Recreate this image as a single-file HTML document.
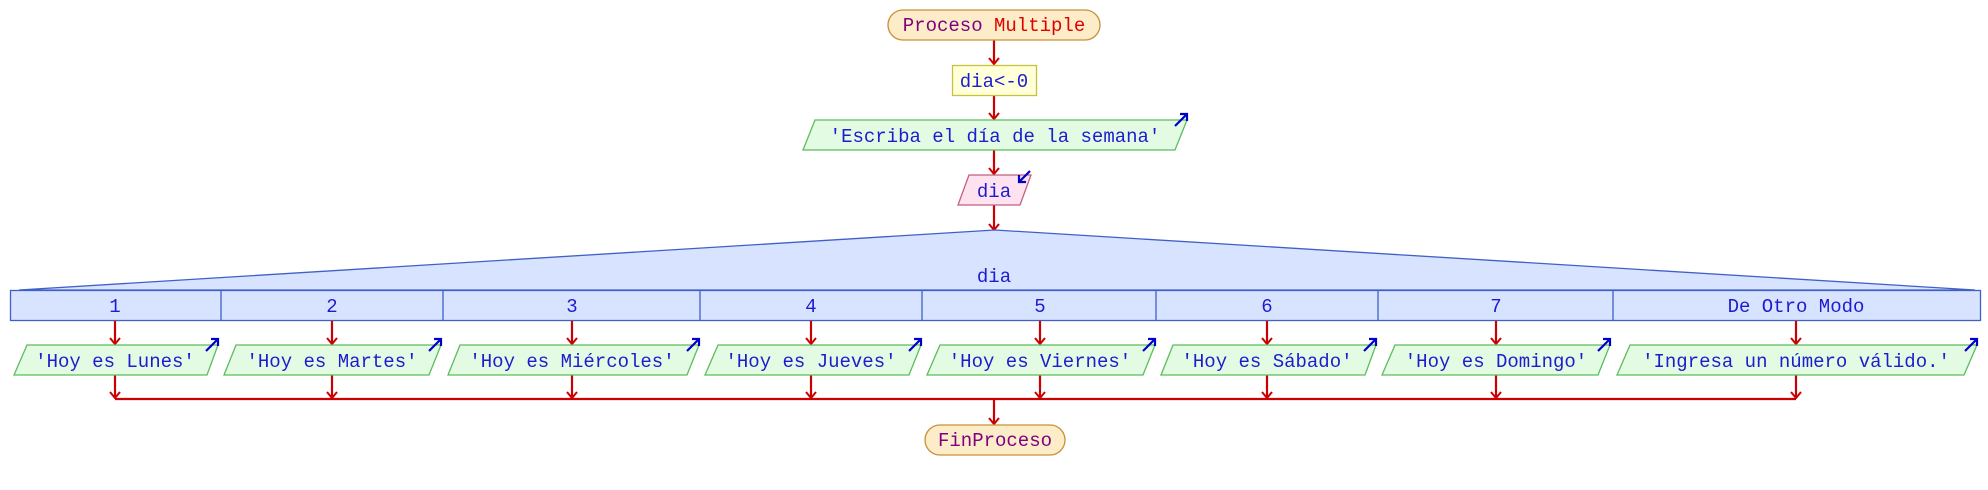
<!DOCTYPE html>
<html><head><meta charset="utf-8"><style>
html,body{margin:0;padding:0;background:#fff;}
svg{display:block;}
text{font-family:"Liberation Mono",monospace;font-size:19px;fill:#1c1cd0;}
</style></head><body>
<svg width="1988" height="490" viewBox="0 0 1988 490" xmlns="http://www.w3.org/2000/svg">
<defs>
<marker id="ar" markerWidth="12" markerHeight="10" refX="6" refY="9" orient="0" markerUnits="userSpaceOnUse">
<path d="M1,3 L6,9 L11,3" fill="none" stroke="#cc0000" stroke-width="2"/>
</marker>
<marker id="bh" markerWidth="10" markerHeight="10" refX="8" refY="2" orient="0" markerUnits="userSpaceOnUse">
<path d="M1,2 L8,2 L8,9" fill="none" stroke="#0000c8" stroke-width="2.2"/>
</marker>
<marker id="bh2" markerWidth="10" markerHeight="10" refX="2" refY="8" orient="0" markerUnits="userSpaceOnUse">
<path d="M2,1 L2,8 L9,8" fill="none" stroke="#0000c8" stroke-width="2.2"/>
</marker>
</defs>
<g stroke="#cc0000" stroke-width="2.2" fill="none">
<line x1="994" y1="40" x2="994" y2="64" marker-end="url(#ar)"/>
<line x1="994" y1="95" x2="994" y2="119" marker-end="url(#ar)"/>
<line x1="994" y1="150" x2="994" y2="174" marker-end="url(#ar)"/>
<line x1="994" y1="205" x2="994" y2="230" marker-end="url(#ar)"/>
<line x1="115" y1="399" x2="1796" y2="399"/>
<line x1="994" y1="399" x2="994" y2="424" marker-end="url(#ar)"/>
</g>
<!-- terminator -->
<rect x="888" y="10" width="212" height="30" rx="15" fill="#fdecc8" stroke="#c89038" stroke-width="1.3"/>
<text x="994" y="31" text-anchor="middle"><tspan style="fill:#800080">Proceso </tspan><tspan style="fill:#e00000">Multiple</tspan></text>
<rect x="952.5" y="65.5" width="84" height="30" fill="#ffffd8" stroke="#c8c040" stroke-width="1.3"/>
<text x="994" y="87" text-anchor="middle">dia&lt;-0</text>
<polygon points="803,150 815,120 1187,120 1175,150" fill="#e2fbe2" stroke="#5cbc5c" stroke-width="1.3"/>
<text x="995" y="142" text-anchor="middle">'Escriba el día de la semana'</text>
<line x1="1175" y1="126" x2="1187" y2="114" stroke="#0000c8" stroke-width="2.2" marker-end="url(#bh)"/>
<polygon points="958,205 969,175 1031,175 1020,205" fill="#ffe2f0" stroke="#c06080" stroke-width="1.3"/>
<text x="994" y="197" text-anchor="middle">dia</text>
<line x1="1030" y1="171" x2="1019" y2="182" stroke="#0000c8" stroke-width="2.2" marker-end="url(#bh2)"/>
<!-- switch -->
<polygon points="19,290 995,230 1975,290" fill="#d8e4ff" stroke="#4060c8" stroke-width="1.3"/>
<rect x="10.5" y="290.5" width="1970" height="30" fill="#d8e4ff" stroke="#4060c8" stroke-width="1.3"/>
<text x="994" y="282" text-anchor="middle">dia</text>
<g stroke="#4060c8" stroke-width="1.3">
<line x1="221" y1="290" x2="221" y2="320"/><line x1="443" y1="290" x2="443" y2="320"/>
<line x1="700" y1="290" x2="700" y2="320"/><line x1="922" y1="290" x2="922" y2="320"/>
<line x1="1156" y1="290" x2="1156" y2="320"/><line x1="1378" y1="290" x2="1378" y2="320"/>
<line x1="1613" y1="290" x2="1613" y2="320"/>
</g>
<g text-anchor="middle">
<text x="115" y="312">1</text><text x="332" y="312">2</text><text x="572" y="312">3</text>
<text x="811" y="312">4</text><text x="1040" y="312">5</text><text x="1267" y="312">6</text>
<text x="1496" y="312">7</text><text x="1796" y="312">De Otro Modo</text>
</g>
<g stroke="#cc0000" stroke-width="2.2" fill="none">
<line x1="115" y1="321" x2="115" y2="344" marker-end="url(#ar)"/><line x1="115" y1="375" x2="115" y2="398" marker-end="url(#ar)"/>
<line x1="332" y1="321" x2="332" y2="344" marker-end="url(#ar)"/><line x1="332" y1="375" x2="332" y2="398" marker-end="url(#ar)"/>
<line x1="572" y1="321" x2="572" y2="344" marker-end="url(#ar)"/><line x1="572" y1="375" x2="572" y2="398" marker-end="url(#ar)"/>
<line x1="811" y1="321" x2="811" y2="344" marker-end="url(#ar)"/><line x1="811" y1="375" x2="811" y2="398" marker-end="url(#ar)"/>
<line x1="1040" y1="321" x2="1040" y2="344" marker-end="url(#ar)"/><line x1="1040" y1="375" x2="1040" y2="398" marker-end="url(#ar)"/>
<line x1="1267" y1="321" x2="1267" y2="344" marker-end="url(#ar)"/><line x1="1267" y1="375" x2="1267" y2="398" marker-end="url(#ar)"/>
<line x1="1496" y1="321" x2="1496" y2="344" marker-end="url(#ar)"/><line x1="1496" y1="375" x2="1496" y2="398" marker-end="url(#ar)"/>
<line x1="1796" y1="321" x2="1796" y2="344" marker-end="url(#ar)"/><line x1="1796" y1="375" x2="1796" y2="398" marker-end="url(#ar)"/>
</g>
<g fill="#e2fbe2" stroke="#5cbc5c" stroke-width="1.3">
<polygon points="14,375 27,345 218,345 207,375"/>
<polygon points="224,375 236,345 441,345 429,375"/>
<polygon points="448,375 460,345 699,345 687,375"/>
<polygon points="705,375 718,345 921,345 909,375"/>
<polygon points="927,375 940,345 1155,345 1143,375"/>
<polygon points="1161,375 1173,345 1376,345 1365,375"/>
<polygon points="1382,375 1395,345 1610,345 1598,375"/>
<polygon points="1617,375 1630,345 1977,345 1964,375"/>
</g>
<g text-anchor="middle">
<text x="115" y="367">'Hoy es Lunes'</text>
<text x="332" y="367">'Hoy es Martes'</text>
<text x="572" y="367">'Hoy es Miércoles'</text>
<text x="811" y="367">'Hoy es Jueves'</text>
<text x="1040" y="367">'Hoy es Viernes'</text>
<text x="1267" y="367">'Hoy es Sábado'</text>
<text x="1496" y="367">'Hoy es Domingo'</text>
<text x="1796" y="367">'Ingresa un número válido.'</text>
</g>
<g stroke="#0000c8" stroke-width="2.2">
<line x1="206" y1="351" x2="218" y2="339" marker-end="url(#bh)"/>
<line x1="429" y1="351" x2="441" y2="339" marker-end="url(#bh)"/>
<line x1="687" y1="351" x2="699" y2="339" marker-end="url(#bh)"/>
<line x1="909" y1="351" x2="921" y2="339" marker-end="url(#bh)"/>
<line x1="1143" y1="351" x2="1155" y2="339" marker-end="url(#bh)"/>
<line x1="1364" y1="351" x2="1376" y2="339" marker-end="url(#bh)"/>
<line x1="1598" y1="351" x2="1610" y2="339" marker-end="url(#bh)"/>
<line x1="1965" y1="351" x2="1977" y2="339" marker-end="url(#bh)"/>
</g>
<rect x="925" y="425" width="140" height="30" rx="15" fill="#fdecc8" stroke="#c89038" stroke-width="1.3"/>
<text x="995" y="446" text-anchor="middle" style="fill:#800080">FinProceso</text>
</svg>
</body></html>
